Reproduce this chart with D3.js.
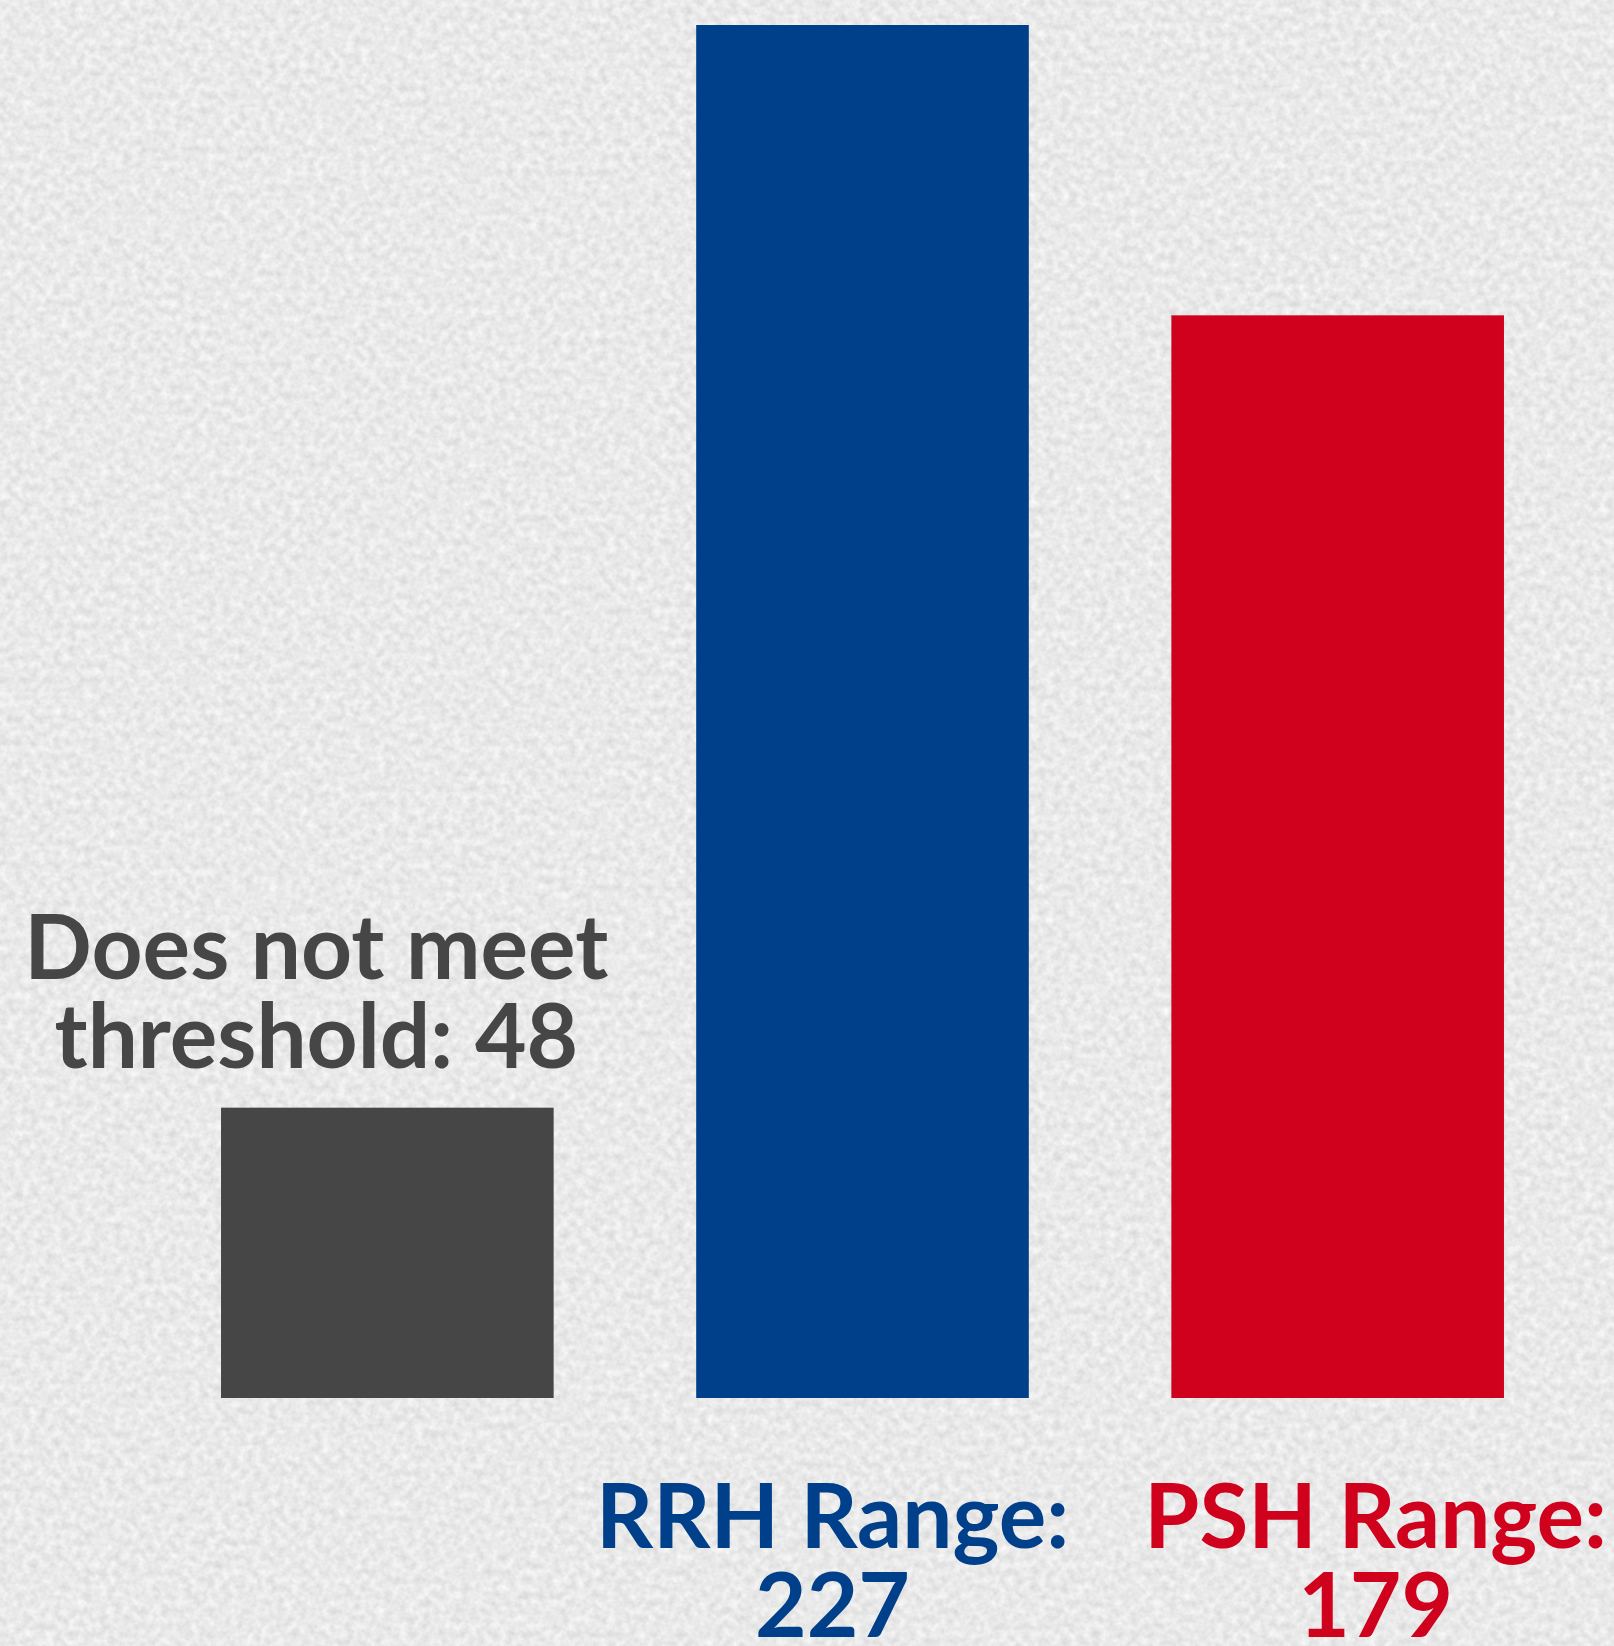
<!DOCTYPE html>
<html>
<head>
<meta charset="utf-8">
<script src="https://cdn.jsdelivr.net/npm/d3@7"></script>
<style>
  body { margin: 0; background: #e8e8e8; }
  svg { display: block; }
  text { font-family: Lato, "Noto Sans", sans-serif; font-weight: 700; }
</style>
</head>
<body>
<div id="chart"></div>
<script>
var categories = ["Does not meet threshold", "RRH Range", "PSH Range"],
    values = [48, 227, 179],
    labelLines = [["Does not meet", "threshold: 48"], ["RRH Range:", "227"], ["PSH Range:", "179"]],
    colors = ["#464646", "#00408a", "#d0011c"];

var width = 1614, height = 1646;

var svg = d3.select("#chart").append("svg")
    .attr("width", width)
    .attr("height", height);

// paper-like grain behind everything
var defs = svg.append("defs");
var grain = defs.append("filter").attr("id", "grain")
    .attr("x", 0).attr("y", 0).attr("width", "100%").attr("height", "100%")
    .attr("color-interpolation-filters", "sRGB");
grain.append("feTurbulence")
    .attr("type", "fractalNoise")
    .attr("baseFrequency", 0.13)
    .attr("numOctaves", 3)
    .attr("seed", 7)
    .attr("result", "noise");
grain.append("feColorMatrix")
    .attr("in", "noise")
    .attr("type", "matrix")
    .attr("values", "0.16 0 0 0 0.835  0.16 0 0 0 0.835  0.16 0 0 0 0.835  0 0 0 0 1");

svg.append("rect").attr("width", width).attr("height", height)
    .attr("fill", "#e8e8e8").attr("filter", "url(#grain)");

var x = d3.scaleBand()
    .domain(categories)
    .range([149.75, 1575.25])
    .paddingInner(0.3)
    .paddingOuter(0.15);

var y = d3.scaleLinear()
    .domain([0, 227])
    .range([1398, 25]);

svg.selectAll("rect.bar")
    .data(values)
    .join("rect")
    .attr("class", "bar")
    .attr("x", (d, i) => x(categories[i]))
    .attr("y", d => y(d))
    .attr("width", x.bandwidth())
    .attr("height", d => y(0) - y(d))
    .attr("fill", (d, i) => colors[i]);

// label placement: the first sits above its bar, the others below the axis
var labelShift = [-71, -30, 38],
    fontSize = 89,
    lineGap = 89;

svg.selectAll("text.label")
    .data(labelLines)
    .join("text")
    .attr("class", "label")
    .attr("text-anchor", "middle")
    .attr("font-size", fontSize)
    .attr("fill", (d, i) => colors[i])
    .attr("transform", (d, i) => {
        var cx = x(categories[i]) + x.bandwidth() / 2 + labelShift[i];
        var base = i === 0 ? y(values[i]) - 129 : y(0) + 150;
        return "translate(" + cx + "," + base + ")";
    })
    .selectAll("tspan")
    .data(d => d)
    .join("tspan")
    .attr("x", 0)
    .attr("dy", (d, j) => j === 0 ? 0 : lineGap)
    .text(d => d);
</script>
</body>
</html>
